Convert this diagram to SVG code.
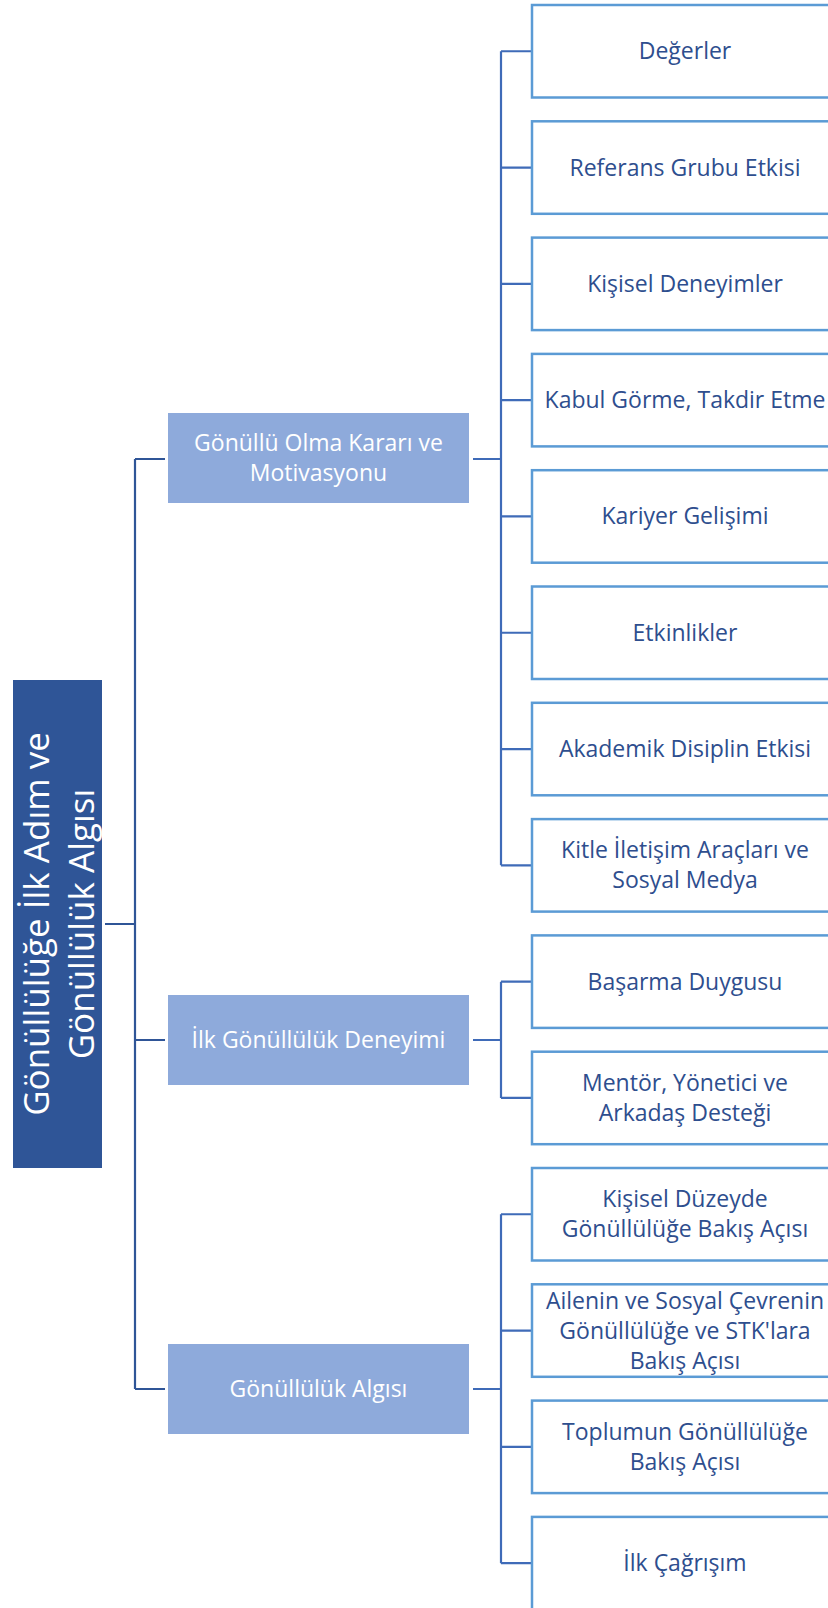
<svg xmlns="http://www.w3.org/2000/svg" width="828" height="1608" viewBox="0 0 828 1608">
<style>
.leaf{fill:#ffffff;stroke:#5b9bd5;stroke-width:2.5}
.mid{fill:#8eaadb}
.root{fill:#2f5597}
.lt{font-family:"Open Sans","Noto Sans",sans-serif;font-size:23px;fill:#2e4e8e;text-anchor:middle}
.mt{font-family:"Open Sans","Noto Sans",sans-serif;font-size:23px;fill:#ffffff;text-anchor:middle}
.rt{font-family:"Open Sans","Noto Sans",sans-serif;font-size:35px;fill:#ffffff;text-anchor:middle}
.c1{fill:none;stroke:#2f5597;stroke-width:2.2}
.c2{fill:none;stroke:#3f6bb8;stroke-width:2.2}
</style>
<rect width="828" height="1608" fill="#ffffff"/>
<g id="connectors">
  <path class="c1" d="M105,924 H135 M135,459 V1389 M135,459 H165 M135,1040 H165 M135,1389 H165"/>
  <path class="c2" d="M473,459 H501 M501,51.25 V865.35 M473,1040 H501 M501,981.65 V1097.95 M473,1389 H501 M501,1214.25 V1563.15"/>
  <path class="c2" d="M501,51.25 H532 M501,167.55 H532 M501,283.85 H532 M501,400.15 H532 M501,516.45 H532 M501,632.75 H532 M501,749.05 H532 M501,865.35 H532 M501,981.65 H532 M501,1097.95 H532 M501,1214.25 H532 M501,1330.55 H532 M501,1446.85 H532 M501,1563.15 H532"/>
</g>
<g id="root">
  <rect class="root" x="13" y="680" width="89" height="488"/>
  <g transform="translate(57.5,924) rotate(-90)">
    <text class="rt" x="0" y="-9">Gönüllülüğe İlk Adım ve</text>
    <text class="rt" x="0" y="36">Gönüllülük Algısı</text>
  </g>
</g>
<g id="mid1">
  <rect class="mid" x="168" y="413" width="301" height="90"/>
  <text class="mt" x="318.5" y="451">Gönüllü Olma Kararı ve</text>
  <text class="mt" x="318.5" y="481">Motivasyonu</text>
</g>
<g id="mid2">
  <rect class="mid" x="168" y="995" width="301" height="90"/>
  <text class="mt" x="318.5" y="1048">İlk Gönüllülük Deneyimi</text>
</g>
<g id="mid3">
  <rect class="mid" x="168" y="1344" width="301" height="90"/>
  <text class="mt" x="318.5" y="1397">Gönüllülük Algısı</text>
</g>
<g id="leaf0"><rect class="leaf" x="532" y="5" width="308" height="92.5"/><text class="lt" x="685" y="59.25">Değerler</text></g>
<g id="leaf1"><rect class="leaf" x="532" y="121.3" width="308" height="92.5"/><text class="lt" x="685" y="175.55">Referans Grubu Etkisi</text></g>
<g id="leaf2"><rect class="leaf" x="532" y="237.6" width="308" height="92.5"/><text class="lt" x="685" y="291.85">Kişisel Deneyimler</text></g>
<g id="leaf3"><rect class="leaf" x="532" y="353.9" width="308" height="92.5"/><text class="lt" x="685" y="408.15">Kabul Görme, Takdir Etme</text></g>
<g id="leaf4"><rect class="leaf" x="532" y="470.2" width="308" height="92.5"/><text class="lt" x="685" y="524.45">Kariyer Gelişimi</text></g>
<g id="leaf5"><rect class="leaf" x="532" y="586.5" width="308" height="92.5"/><text class="lt" x="685" y="640.75">Etkinlikler</text></g>
<g id="leaf6"><rect class="leaf" x="532" y="702.8" width="308" height="92.5"/><text class="lt" x="685" y="757.05">Akademik Disiplin Etkisi</text></g>
<g id="leaf7"><rect class="leaf" x="532" y="819.1" width="308" height="92.5"/><text class="lt" x="685" y="858.35">Kitle İletişim Araçları ve</text><text class="lt" x="685" y="888.35">Sosyal Medya</text></g>
<g id="leaf8"><rect class="leaf" x="532" y="935.4" width="308" height="92.5"/><text class="lt" x="685" y="989.65">Başarma Duygusu</text></g>
<g id="leaf9"><rect class="leaf" x="532" y="1051.7" width="308" height="92.5"/><text class="lt" x="685" y="1090.95">Mentör, Yönetici ve</text><text class="lt" x="685" y="1120.95">Arkadaş Desteği</text></g>
<g id="leaf10"><rect class="leaf" x="532" y="1168" width="308" height="92.5"/><text class="lt" x="685" y="1207.25">Kişisel Düzeyde</text><text class="lt" x="685" y="1237.25">Gönüllülüğe Bakış Açısı</text></g>
<g id="leaf11"><rect class="leaf" x="532" y="1284.3" width="308" height="92.5"/><text class="lt" x="685" y="1308.55">Ailenin ve Sosyal Çevrenin</text><text class="lt" x="685" y="1338.55">Gönüllülüğe ve STK'lara</text><text class="lt" x="685" y="1368.55">Bakış Açısı</text></g>
<g id="leaf12"><rect class="leaf" x="532" y="1400.6" width="308" height="92.5"/><text class="lt" x="685" y="1439.85">Toplumun Gönüllülüğe</text><text class="lt" x="685" y="1469.85">Bakış Açısı</text></g>
<g id="leaf13"><rect class="leaf" x="532" y="1516.9" width="308" height="92.5"/><text class="lt" x="685" y="1571.15">İlk Çağrışım</text></g>
</svg>
